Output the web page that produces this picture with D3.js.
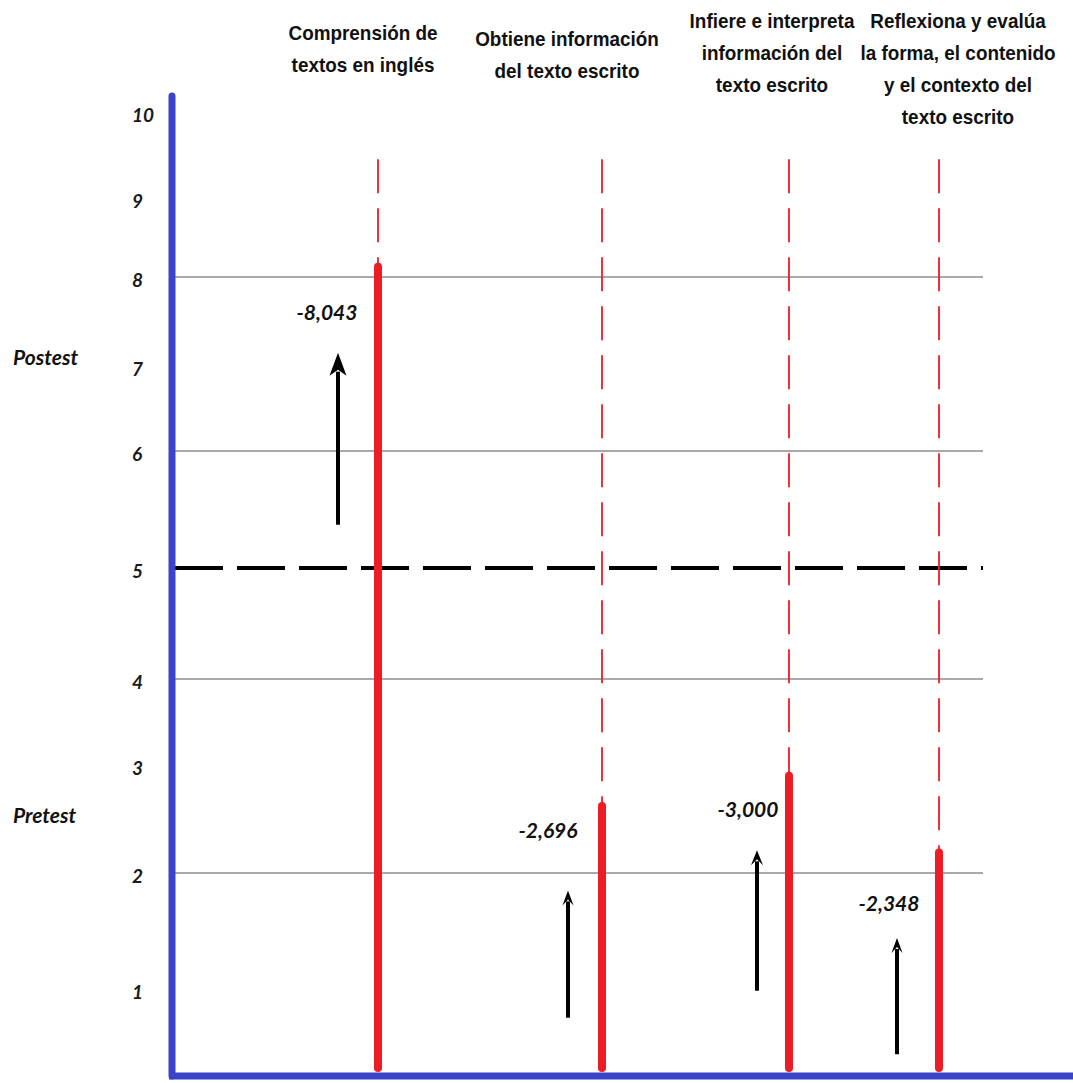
<!DOCTYPE html>
<html>
<head>
<meta charset="utf-8">
<script src="https://cdn.jsdelivr.net/npm/d3@7"></script>
<style>
  body { margin: 0; background: #fff; }
  svg { display: block; }
</style>
</head>
<body>
<div id="chart"></div>
<script>
// data
const categories = [
  ["Comprensión de", "textos en inglés"],
  ["Obtiene información", "del texto escrito"],
  ["Infiere e interpreta", "información del", "texto escrito"],
  ["Reflexiona y evalúa", "la forma, el contenido", "y el contexto del", "texto escrito"]
];
const barTops = [8.13, 2.62, 2.9, 2.19];
const diffLabels = ["-8,043", "-2,696", "-3,000", "-2,348"];
const labelAt = [7.6, 2.39, 2.59, 1.74];
const arrowFrom = [5.37, 0.67, 0.98, 0.25];
const arrowTo = [7.15, 1.85, 2.21, 1.44];
const yTicks = [1, 2, 3, 4, 5, 6, 7, 8, 9, 10];
const gridValues = [2, 4, 6, 8];
const referenceValue = 5;
const phases = ["Postest", "Pretest"];
const phaseAt = [7.09, 2.53];
const guideTop = 9.45;

const width = 1073, height = 1083;

// hand drawn figure: axis spacing is not even, so piecewise scale
const y = d3.scaleLinear()
  .domain([0, 1, 2, 3, 4, 5, 6, 7, 8, 9, 10])
  .range([1076, 989, 873, 765, 679, 568, 451, 366, 277, 198, 112]);

const x = d3.scaleLinear()
  .domain([0, 1, 2, 3])
  .range([378, 602, 789, 939]);

// offsets of titles / arrows / numbers relative to each bar
const titleDx = [-15, -35, -17, 19];
const titleTop = [40, 46, 28, 28];
const arrowDx = [-40, -34, -32, -42];
const labelDx = [-51, -54, -41, -50];
const headSize = [[17, 23], [11, 15], [12, 15], [11, 15]];

const red = "#ee1c24", blue = "#3b43c9";
const italicFont = "Lato, 'Open Sans', sans-serif";

const svg = d3.select("#chart").append("svg")
  .attr("width", width)
  .attr("height", height);

svg.append("rect").attr("width", width).attr("height", height).attr("fill", "#fff");

// grid lines
svg.selectAll(".grid")
  .data(gridValues)
  .enter().append("line")
  .attr("class", "grid")
  .attr("x1", 175).attr("x2", 983)
  .attr("y1", d => y(d)).attr("y2", d => y(d))
  .attr("stroke", "#8c8c8c")
  .attr("stroke-width", 1.5);

// reference line at 5
svg.append("line")
  .attr("x1", 175).attr("x2", 983)
  .attr("y1", y(referenceValue)).attr("y2", y(referenceValue))
  .attr("stroke", "#000")
  .attr("stroke-width", 4)
  .attr("stroke-dasharray", "48,14");

// y tick labels
const yAxis = svg.append("g")
  .attr("transform", "translate(132,3)")
  .call(d3.axisLeft(y).tickValues(yTicks).tickSize(0).tickPadding(0));
yAxis.select(".domain").remove();
yAxis.selectAll("text")
  .attr("text-anchor", "start")
  .attr("x", 0)
  .style("font-family", italicFont)
  .style("font-style", "italic")
  .style("font-weight", "bold")
  .style("font-size", "19px")
  .attr("fill", "#1a1a1a");

// phase labels
svg.selectAll(".phase")
  .data(phases)
  .enter().append("text")
  .attr("class", "phase")
  .attr("x", 13)
  .attr("y", (d, i) => y(phaseAt[i]))
  .attr("dy", "0.35em")
  .style("font-family", italicFont)
  .style("font-style", "italic")
  .style("font-weight", "bold")
  .style("font-size", "21px")
  .attr("fill", "#111")
  .text(d => d);

// dashed guide lines above bars
svg.selectAll(".guide")
  .data(barTops)
  .enter().append("line")
  .attr("class", "guide")
  .attr("x1", (d, i) => x(i)).attr("x2", (d, i) => x(i))
  .attr("y1", y(guideTop)).attr("y2", d => y(d))
  .attr("stroke", red)
  .attr("stroke-width", 1.8)
  .attr("stroke-dasharray", "34,15");

// bars
svg.selectAll(".bar")
  .data(barTops)
  .enter().append("line")
  .attr("class", "bar")
  .attr("x1", (d, i) => x(i)).attr("x2", (d, i) => x(i))
  .attr("y1", y(0) - 8).attr("y2", d => y(d))
  .attr("stroke", red)
  .attr("stroke-width", 8)
  .attr("stroke-linecap", "round");

// arrows
const arrows = svg.selectAll(".arrow")
  .data(arrowFrom)
  .enter().append("g")
  .attr("class", "arrow")
  .attr("transform", (d, i) => `translate(${x(i) + arrowDx[i]},0)`);

arrows.append("line")
  .attr("x1", 0).attr("x2", 0)
  .attr("y1", d => y(d))
  .attr("y2", (d, i) => y(arrowTo[i]) + headSize[i][1] - 4)
  .attr("stroke", "#000")
  .attr("stroke-width", 4);

arrows.append("path")
  .attr("d", (d, i) => {
    const t = y(arrowTo[i]), w = headSize[i][0] / 2, h = headSize[i][1];
    return `M0,${t} L${w},${t + h} L0,${t + h - 6} L${-w},${t + h} Z`;
  })
  .attr("fill", "#000");

// difference labels
svg.selectAll(".diff")
  .data(diffLabels)
  .enter().append("text")
  .attr("class", "diff")
  .attr("x", (d, i) => x(i) + labelDx[i])
  .attr("y", (d, i) => y(labelAt[i]))
  .attr("dy", "0.35em")
  .attr("text-anchor", "middle")
  .style("font-family", italicFont)
  .style("font-style", "italic")
  .style("font-weight", "bold")
  .style("font-size", "21px")
  .attr("fill", "#111")
  .text(d => d);

// category titles (slightly condensed, like the source)
const titles = svg.selectAll(".title")
  .data(categories)
  .enter().append("text")
  .attr("class", "title")
  .attr("text-anchor", "middle")
  .attr("transform", (d, i) => `translate(${x(i) + titleDx[i]},0) scale(0.9,1)`)
  .style("font-family", "'Liberation Sans', Arial, sans-serif")
  .style("font-weight", "bold")
  .style("font-size", "21px")
  .attr("fill", "#111");

titles.selectAll("tspan")
  .data((d, i) => d.map(line => ({ line, i })))
  .enter().append("tspan")
  .attr("x", 0)
  .attr("y", (d, k) => titleTop[d.i] + k * 32)
  .text(d => d.line);

// axes
svg.append("line")
  .attr("x1", 172).attr("x2", 172)
  .attr("y1", 96).attr("y2", y(0))
  .attr("stroke", blue)
  .attr("stroke-width", 7)
  .attr("stroke-linecap", "round");

svg.append("line")
  .attr("x1", 169).attr("x2", width)
  .attr("y1", y(0)).attr("y2", y(0))
  .attr("stroke", blue)
  .attr("stroke-width", 7);
</script>
</body>
</html>
